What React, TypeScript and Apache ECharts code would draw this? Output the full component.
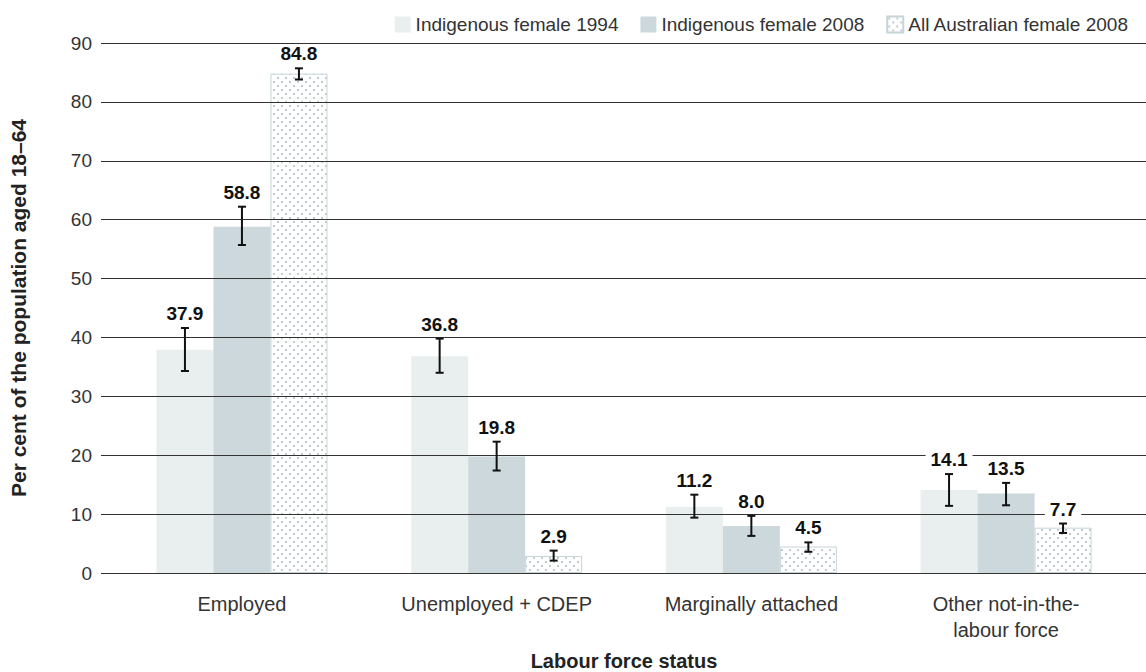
import React, { useEffect, useRef } from "react";
import * as echarts from "echarts";

const categories = [
  "Employed",
  "Unemployed + CDEP",
  "Marginally attached",
  "Other not-in-the-\nlabour force",
];
const seriesNames = [
  "Indigenous female 1994",
  "Indigenous female 2008",
  "All Australian female 2008",
];
const indig1994 = [37.9, 36.8, 11.2, 14.1];
const indig2008 = [58.8, 19.8, 8.0, 13.5];
const allAus2008 = [84.8, 2.9, 4.5, 7.7];

const low1994 = [34.3, 34.0, 9.4, 11.4];
const high1994 = [41.6, 39.8, 13.3, 16.8];
const low2008 = [55.7, 17.4, 6.3, 11.5];
const high2008 = [62.2, 22.3, 9.7, 15.3];
const lowAll = [83.8, 2.1, 3.6, 6.8];
const highAll = [85.7, 3.8, 5.2, 8.4];

const yMin = 0;
const yMax = 90;
const yInterval = 10;

const FONT = "'Liberation Sans', Arial, Helvetica, sans-serif";
const BAR_W = 57;

function makePattern(): string {
  const c = document.createElement("canvas");
  c.width = 8;
  c.height = 8;
  const ctx = c.getContext("2d")!;
  ctx.fillStyle = "#ffffff";
  ctx.fillRect(0, 0, 8, 8);
  ctx.fillStyle = "#bfcdd1";
  ctx.fillRect(1, 1, 2, 2);
  ctx.fillRect(5, 5, 2, 2);
  return c.toDataURL();
}

export default function App() {
  const ref = useRef<HTMLDivElement>(null);
  useEffect(() => {
    if (!ref.current) return;
    const chart = echarts.init(ref.current, null, { renderer: "svg" });
    const pattern = { image: makePattern(), repeat: "repeat" } as any;

    const values = [indig1994, indig2008, allAus2008];
    const lows = [low1994, low2008, lowAll];
    const highs = [high1994, high2008, highAll];
    const colors: any[] = ["#e9efef", "#cdd8dc", pattern];

    const barSeries = values.map((v, i) => ({
      name: seriesNames[i],
      type: "bar",
      xAxisIndex: 0,
      yAxisIndex: 0,
      data: v,
      barWidth: BAR_W,
      barGap: "0%",
      z: 2,
      itemStyle:
        i === 2
          ? { color: colors[i], borderColor: "#c6d4d8", borderWidth: 1 }
          : { color: colors[i] },
    }));

    const errSeries = values.map((v, i) => ({
      name: seriesNames[i] + " err",
      type: "custom",
      xAxisIndex: 0,
      yAxisIndex: 0,
      z: 10,
      silent: true,
      data: v.map((val, k) => [k, val, lows[i][k], highs[i][k]]),
      renderItem: (params: any, api: any) => {
        const idx = api.value(0);
        const val = api.value(1);
        const base = api.coord([idx, val]);
        const x = base[0] + (i - 1) * BAR_W;
        const yHi = api.coord([idx, api.value(3)])[1];
        const yLo = api.coord([idx, api.value(2)])[1];
        const cap = 4;
        const ls = { stroke: "#111", lineWidth: 2 };
        return {
          type: "group",
          children: [
            { type: "line", shape: { x1: x, y1: yHi, x2: x, y2: yLo }, style: ls },
            { type: "line", shape: { x1: x - cap, y1: yHi, x2: x + cap, y2: yHi }, style: ls },
            { type: "line", shape: { x1: x - cap, y1: yLo, x2: x + cap, y2: yLo }, style: ls },
            {
              type: "text",
              style: {
                text: Number(val).toFixed(1),
                x: x,
                y: yHi - 5,
                align: "center",
                verticalAlign: "bottom",
                font: "bold 19px " + FONT,
                fill: "#111",
                backgroundColor: "#ffffff",
                padding: [0, 5, 0, 5],
              },
            },
          ],
        };
      },
    }));

    chart.setOption({
      animation: false,
      textStyle: { fontFamily: FONT },
      legend: {
        data: seriesNames,
        right: 12,
        top: 10,
        itemWidth: 16,
        itemHeight: 16,
        itemGap: 22,
        icon: "rect",
        textStyle: { fontSize: 19, color: "#333", fontFamily: FONT },
      },
      grid: [
        { left: 114.6, right: 12.6, top: 43, height: 530, containLabel: false, outerBoundsMode: "none" },
        { left: 101, right: 0, top: 43, height: 530, containLabel: false, outerBoundsMode: "none" },
      ],
      xAxis: [
        {
          type: "category",
          gridIndex: 0,
          data: categories,
          axisLine: { show: false },
          axisTick: { show: false },
          axisLabel: {
            fontSize: 20,
            color: "#333",
            margin: 18,
            lineHeight: 26,
            fontFamily: FONT,
          },
          name: "Labour force status",
          nameLocation: "middle",
          nameGap: 78,
          nameTextStyle: {
            fontSize: 20,
            lineHeight: 20,
            fontWeight: "bold",
            color: "#222",
            fontFamily: FONT,
          },
        },
        { type: "value", gridIndex: 1, show: false, min: 0, max: 1 },
      ],
      yAxis: [
        {
          type: "value",
          gridIndex: 0,
          min: yMin,
          max: yMax,
          interval: yInterval,
          show: false,
        },
        {
          type: "value",
          gridIndex: 1,
          min: yMin,
          max: yMax,
          interval: yInterval,
          z: 5,
          axisLine: { show: false },
          axisTick: { show: false },
          splitLine: { show: true, lineStyle: { color: "#333", width: 1 } },
          axisLabel: {
            fontSize: 19,
            color: "#333",
            margin: 9,
            fontFamily: FONT,
          },
          name: "Per cent of the population aged 18\u201364",
          nameLocation: "middle",
          nameGap: 72,
          nameTextStyle: {
            fontSize: 21,
            fontWeight: "bold",
            color: "#222",
            fontFamily: FONT,
          },
        },
      ],
      series: [...barSeries, ...errSeries],
    });
    return () => chart.dispose();
  }, []);
  return (
    <div
      ref={ref}
      style={{ position: "absolute", left: 0, top: 0, width: 1146, height: 672 }}
    />
  );
}
